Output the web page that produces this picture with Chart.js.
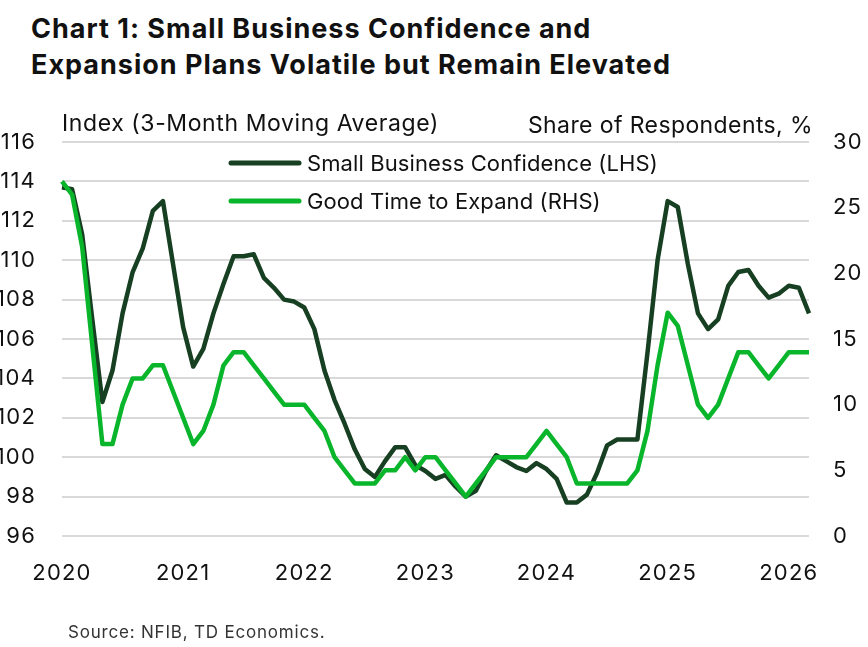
<!DOCTYPE html>
<html>
<head>
<meta charset="utf-8">
<script src="https://cdn.jsdelivr.net/npm/chart.js@4.4.1/dist/chart.umd.min.js"></script>
<style>
  html, body { margin: 0; padding: 0; background: #fff; }
  body { width: 868px; height: 647px; position: relative; overflow: hidden; font-family: Inter, "Noto Sans", sans-serif; }
  #title { position: absolute; left: 31px; top: 11px; font-size: 27px; font-weight: 700; line-height: 36px; color: #111; letter-spacing: 1px; }
  #source { position: absolute; left: 68px; top: 622px; font-size: 17px; color: #333; letter-spacing: 0.8px; }
  #wrap { position: absolute; left: 0; top: 0; width: 868px; height: 647px; }
</style>
</head>
<body>
<div id="title">Chart 1: Small Business Confidence and<br>Expansion Plans Volatile but Remain Elevated</div>
<div id="wrap"><canvas id="c" width="868" height="647"></canvas></div>
<div id="source">Source: NFIB, TD Economics.</div>
<script>
const years = [2020, 2021, 2022, 2023, 2024, 2025, 2026];
const monthsCount = 75; // Jan 2020 - Mar 2026
const categories = [];
for (let i = 0; i < monthsCount; i++) {
  const y = years[0] + Math.floor(i / 12);
  const m = (i % 12) + 1;
  categories.push(y + '-' + String(m).padStart(2, '0'));
}
const confidence = [
  113.7, 113.6, 111.3, 107.0, 102.8, 104.4, 107.3, 109.4, 110.6, 112.5, 113.0, 109.8,
  106.6, 104.6, 105.5, 107.3, 108.8, 110.2, 110.2, 110.3, 109.1, 108.6, 108.0, 107.9,
  107.6, 106.5, 104.4, 102.9, 101.7, 100.4, 99.4, 99.0, 99.8, 100.5, 100.5, 99.6,
  99.3, 98.9, 99.1, 98.5, 98.0, 98.3, 99.3, 100.1, 99.8, 99.5, 99.3, 99.7,
  99.4, 98.9, 97.7, 97.7, 98.1, 99.2, 100.6, 100.9, 100.9, 100.9, 105.3, 110.0,
  113.0, 112.7, 109.8, 107.3, 106.5, 107.0, 108.7, 109.4, 109.5, 108.7, 108.1, 108.3,
  108.7, 108.6, 107.3
];
const expand = [
  27, 26, 22, 14.5, 7, 7, 10, 12, 12, 13, 13, 11,
  9, 7, 8, 10, 13, 14, 14, 13, 12, 11, 10, 10,
  10, 9, 8, 6, 5, 4, 4, 4, 5, 5, 6, 5,
  6, 6, 5, 4, 3, 4, 5, 6, 6, 6, 6, 7,
  8, 7, 6, 4, 4, 4, 4, 4, 4, 5, 8, 13,
  17, 16, 13, 10, 9, 10, 12, 14, 14, 13, 12, 13,
  14, 14, 14
];
const seriesNames = ['Small Business Confidence (LHS)', 'Good Time to Expand (RHS)'];
const leftAxisTitle = 'Index (3-Month Moving Average)';
const rightAxisTitle = 'Share of Respondents, %';

const DARK = '#173f22';
const BRIGHT = '#08b52b';
const FONT = 'Inter, "Noto Sans", sans-serif';

const PLOT = { left: 62, right: 809, top: 142, bottom: 536 };

const spacing = {
  id: 'spacing',
  beforeDraw(chart) { chart.ctx.letterSpacing = '1.2px'; },
  afterDraw(chart) { chart.ctx.letterSpacing = '0px'; }
};

const overlay = {
  id: 'overlay',
  afterDraw(chart) {
    const ctx = chart.ctx;
    ctx.save();
    ctx.fillStyle = '#111';
    ctx.textBaseline = 'middle';
    ctx.font = '23px ' + FONT;
    ctx.letterSpacing = '0.6px';
    ctx.textAlign = 'left';
    ctx.fillText(leftAxisTitle, 62, 124);
    ctx.letterSpacing = '0.4px';
    ctx.textAlign = 'right';
    ctx.fillText(rightAxisTitle, 813, 126);
    // legend
    ctx.font = '22px ' + FONT;
    ctx.letterSpacing = '0.1px';
    const items = [[DARK, 163], [BRIGHT, 201]];
    items.forEach((it, k) => {
      ctx.strokeStyle = it[0];
      ctx.lineWidth = 5;
      ctx.lineCap = 'round';
      ctx.beginPath();
      ctx.moveTo(231, it[1]);
      ctx.lineTo(299, it[1]);
      ctx.stroke();
      ctx.fillStyle = '#111';
      ctx.textAlign = 'left';
      ctx.fillText(seriesNames[k], 307, it[1] + 1);
    });
    ctx.restore();
  }
};

new Chart(document.getElementById('c'), {
  type: 'line',
  data: {
    labels: categories,
    datasets: [
      { label: seriesNames[0], data: confidence, borderColor: DARK, backgroundColor: DARK, borderWidth: 4.5, pointRadius: 0, yAxisID: 'y', tension: 0, borderJoinStyle: 'round', order: 2 },
      { label: seriesNames[1], data: expand, borderColor: BRIGHT, backgroundColor: BRIGHT, borderWidth: 4.5, pointRadius: 0, yAxisID: 'y1', tension: 0, borderJoinStyle: 'round', order: 1 }
    ]
  },
  options: {
    responsive: false,
    animation: false,
    layout: { padding: { top: PLOT.top, left: 0, right: 0, bottom: 0 } },
    plugins: { legend: { display: false }, tooltip: { enabled: false } },
    scales: {
      x: {
        type: 'category',
        offset: false,
        grid: { display: false, drawTicks: false },
        border: { display: false },
        ticks: {
          autoSkip: false, maxRotation: 0, padding: 24,
          color: '#111', font: { size: 22, family: FONT },
          callback: function(v, i) { return i % 12 === 0 ? String(years[0] + i / 12) : ''; }
        },
        afterFit(s) { s.height = 647 - PLOT.bottom; }
      },
      y: {
        position: 'left', min: 96, max: 116,
        grid: { color: '#d9d9d9', lineWidth: 2, drawTicks: false },
        border: { display: false },
        ticks: { stepSize: 2, padding: 26, color: '#111', font: { size: 22, family: FONT } },
        afterFit(s) { s.width = PLOT.left; }
      },
      y1: {
        position: 'right', min: 0, max: 30,
        grid: { display: false, drawTicks: false },
        border: { display: false },
        ticks: { stepSize: 5, padding: 24, color: '#111', font: { size: 22, family: FONT } },
        afterFit(s) { s.width = 868 - PLOT.right; }
      }
    }
  },
  plugins: [spacing, overlay]
});
</script>
</body>
</html>
